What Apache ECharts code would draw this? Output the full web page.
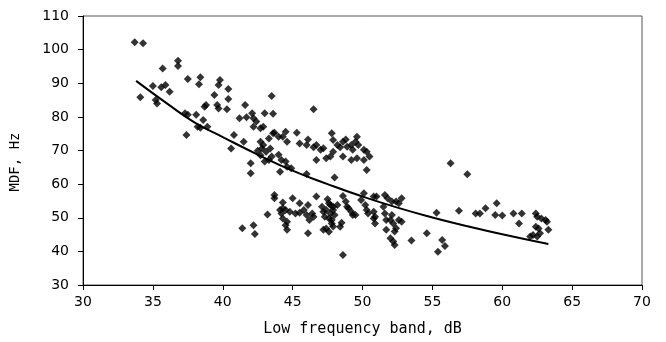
<!DOCTYPE html>
<html><head><meta charset="utf-8">
<script src="https://cdn.jsdelivr.net/npm/echarts@6/dist/echarts.min.js"></script>
<style>html,body{margin:0;padding:0;background:#fff}#c{width:666px;height:342px}</style>
</head><body><div id="c"></div>
<script>
// Scatter points [Low frequency band (dB), MDF (Hz)]
const upperLeftPoints = [
  [33.7,102.2],[34.3,101.9],[35.7,94.4],[36.8,96.7],[36.8,95.1],[37.5,91.3],[38.4,91.8],[38.3,89.7],
  [39.8,91.0],[39.7,89.5],[40.4,88.3],[43.5,86.2],[34.1,85.8],[35.0,89.2],[35.6,88.8],[35.9,89.5],
  [36.2,87.5],[35.2,85.0],[35.3,84.0],[39.4,86.5],[40.4,85.3],[39.6,83.5],[39.7,82.5],[40.3,82.3],
  [38.7,83.0],[38.8,83.5],[41.6,83.5],[37.3,81.1],[37.5,80.6],[38.1,80.6],[38.6,79.1],[41.2,79.6],
  [41.7,79.9],[42.1,81.1],[42.2,79.6],[42.4,78.6],[43.0,81.1],[43.6,80.9],[42.7,76.6],[42.9,77.1],
  [42.2,77.1],[38.2,77.1],[38.4,76.8],[38.9,77.1],[37.4,74.6],[40.8,74.6],[43.6,75.1],[43.3,73.6],
  [44.0,74.1]
];
const upperMidPoints = [
  [46.5,82.3],[43.7,75.3],[44.5,75.6],[45.3,75.3],[44.3,74.1],[44.6,72.6],[41.5,72.6],[40.6,70.6],
  [42.7,72.6],[42.9,71.6],[42.8,70.6],[42.5,69.9],[42.7,68.6],[43.4,70.6],[43.1,69.6],[43.5,68.2],
  [44.0,68.7],[44.2,67.2],[43.3,67.2],[43.0,66.7],[44.5,66.7],[44.6,65.2],[42.0,66.2],[42.0,63.2],
  [44.1,63.7],[44.9,64.7],[46.0,63.0],[48.0,62.0],[45.5,72.1],[46.0,71.6],[46.1,73.3],[46.5,71.0],
  [46.7,71.6],[47.0,70.2],[47.2,70.7],[47.4,67.7],[46.7,67.2],[47.8,75.1],[47.9,73.1],[48.2,71.6],
  [48.4,71.0],[48.6,72.6],[48.9,71.1],[49.2,71.6],[49.5,72.6],[49.6,74.1],[49.3,70.2],[48.6,68.2],
  [49.2,67.2],[49.6,67.7],[47.9,69.6],[47.7,68.2],[48.8,73.3],[49.7,71.6],[50.1,70.2],[50.5,68.2],
  [50.3,69.6],[50.1,67.2],[50.3,64.2],[56.3,66.2],[57.5,62.9]
];
const lowerPoints = [
  [43.7,56.8],[43.7,55.8],[45.0,55.8],[46.7,56.3],[47.5,55.5],[48.6,56.5],[48.8,54.8],[48.9,53.3],
  [49.2,51.8],[49.3,50.8],[44.3,54.5],[44.1,52.3],[44.5,52.3],[44.2,51.3],[44.3,52.8],[44.8,51.8],
  [45.2,51.3],[45.5,51.5],[45.8,52.3],[46.1,53.8],[45.5,54.3],[43.2,51.0],[44.3,49.8],[44.6,48.8],
  [44.5,47.8],[44.6,46.4],[46.0,50.8],[46.2,49.3],[46.5,50.3],[46.4,51.3],[47.1,53.3],[47.2,51.8],
  [47.4,52.3],[47.3,50.3],[47.6,49.8],[47.6,54.3],[47.7,53.8],[47.9,52.3],[47.7,51.3],[48.0,50.8],
  [48.2,53.8],[47.9,53.3],[47.8,49.3],[47.8,48.3],[47.9,47.4],[47.4,46.8],[47.2,46.4],[47.6,45.8],
  [48.4,47.3],[48.5,48.5],[46.1,45.4],[41.4,46.9],[42.2,47.8],[42.3,45.2],[48.6,38.9],[49.0,52.8],
  [49.5,50.8],[50.1,57.3],[49.9,55.3],[50.2,53.8],[50.3,52.3],[50.4,51.3],[50.8,49.8],[50.9,48.3],
  [50.8,56.3],[51.0,56.3],[51.6,56.8],[51.8,55.8],[52.1,54.8],[52.4,54.8],[52.8,55.8],[52.6,54.3],
  [50.8,51.8],[50.9,50.3],[51.5,53.3],[51.6,51.3],[52.1,50.8],[52.0,49.3],[51.7,49.3],[52.2,48.3],
  [52.6,49.3],[52.8,48.8],[51.7,46.4],[52.3,45.9],[52.4,46.9],[52.0,43.9],[52.2,42.9],[52.3,41.9],
  [53.5,43.2],[54.6,45.4],[55.3,51.5],[55.7,43.4],[55.9,41.6],[55.4,39.9],[56.9,52.1]
];
const rightPoints = [
  [58.1,51.3],[58.4,51.3],[58.8,52.8],[59.6,54.3],[59.5,50.8],[60.0,50.7],[60.8,51.3],[61.4,51.3],
  [61.2,48.3],[62.4,51.3],[62.5,50.3],[62.8,49.8],[63.1,49.3],[63.2,48.8],[63.3,46.4],[62.4,47.3],
  [62.6,46.8],[62.2,44.9],[62.5,44.4],[62.7,45.4],[62.0,44.4]
];
// Trend line
const trendX = [33.8, 36, 38, 40, 42.5, 45, 47.5, 50, 52.5, 55, 57.5, 60, 63.3];
const trendY = [90.7, 84.0, 78.3, 74.0, 68.8, 64.0, 60.0, 56.3, 53.0, 50.1, 47.5, 45.1, 42.2];
// Axis ticks
const xTicks = [30, 70, 5];   // min, max, interval
const yTicks = [30, 110, 10];

const scatterData = [].concat(upperLeftPoints, upperMidPoints, lowerPoints, rightPoints);
const trendData = trendX.map((x, i) => [x, trendY[i]]);

const chart = echarts.init(document.getElementById('c'), null, {renderer: 'canvas'});
const labelFont = 'DejaVu Sans';
const monoFont = 'DejaVu Sans Mono';
chart.setOption({
  animation: false,
  backgroundColor: '#fff',
  grid: {left: 83, right: 24, top: 16, bottom: 57, show: true, borderColor: '#555', borderWidth: 1},
  xAxis: {
    type: 'value', min: xTicks[0], max: xTicks[1], interval: xTicks[2],
    name: 'Low frequency band, dB', nameLocation: 'middle', nameGap: 37,
    nameTextStyle: {fontFamily: monoFont, fontSize: 15, color: '#000'},
    axisLine: {onZero: false, lineStyle: {color: '#000', width: 1}},
    axisTick: {show: true, length: 5, lineStyle: {color: '#000'}},
    axisLabel: {margin: 10, fontFamily: labelFont, fontSize: 14, color: '#000'},
    splitLine: {show: false}
  },
  yAxis: {
    type: 'value', min: yTicks[0], max: yTicks[1], interval: yTicks[2],
    axisLine: {show: true, onZero: false, lineStyle: {color: '#000', width: 1}},
    axisTick: {show: true, length: 5, lineStyle: {color: '#000'}},
    axisLabel: {margin: 14, fontFamily: labelFont, fontSize: 14, color: '#000'},
    splitLine: {show: false}
  },
  graphic: [{
    type: 'text', x: 15, y: 162, rotation: Math.PI / 2,
    style: {text: 'MDF, Hz', fontFamily: monoFont, fontSize: 14, fill: '#000', align: 'center', verticalAlign: 'middle'}
  }],
  series: [
    {type: 'scatter', data: scatterData, symbol: 'diamond', symbolSize: 8,
     itemStyle: {color: '#000'}, z: 2},
    {type: 'line', data: trendData, smooth: true, showSymbol: false, symbol: 'none',
     lineStyle: {color: '#000', width: 2}, z: 3}
  ]
});
</script></body></html>
